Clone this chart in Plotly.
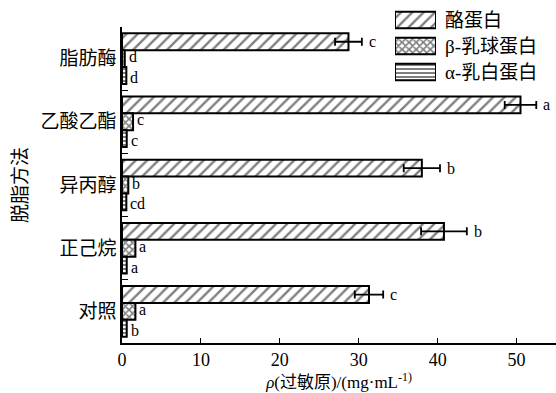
import plotly.graph_objects as go

# Defatting methods (top to bottom) and allergen content, mg/mL
methods = ["脂肪酶", "乙酸乙酯", "异丙醇", "正己烷", "对照"]
casein = [28.7, 50.5, 38.0, 40.8, 31.3]
casein_err = [1.7, 2.0, 2.3, 2.9, 1.8]
beta_lg = [0.35, 1.4, 0.8, 1.7, 1.7]
alpha_la = [0.55, 0.6, 0.55, 0.6, 0.6]

casein_sig = ["c", "a", "b", "b", "c"]
beta_sig = ["d", "c", "b", "a", "a"]
alpha_sig = ["d", "c", "cd", "a", "b"]

series = ["酪蛋白", "β-乳球蛋白", "α-乳白蛋白"]
x_ticks = [0, 10, 20, 30, 40, 50]

FONT = "Liberation Serif, Noto Sans CJK SC, serif"

patterns = [
    dict(shape="/", size=8, solidity=0.3, fgcolor="black", bgcolor="white"),
    dict(shape="x", size=5, solidity=0.55, fgcolor="black", bgcolor="white"),
    dict(shape="-", size=4, solidity=0.5, fgcolor="black", bgcolor="white"),
]

fig = go.Figure()

values = [casein, beta_lg, alpha_la]
for i, (name, vals) in enumerate(zip(series, values)):
    fig.add_trace(go.Bar(
        y=methods, x=vals, orientation="h", name=name,
        marker=dict(color="white", line=dict(color="black", width=2),
                    pattern=patterns[i]),
        error_x=dict(type="data", array=casein_err, color="black",
                     thickness=1.8, width=4, visible=(i == 0)),
        showlegend=False, xaxis="x", yaxis="y",
    ))

# Key boxes drawn as bars on a small inset axis
for i, name in enumerate(series):
    fig.add_trace(go.Bar(
        y=[name], x=[1], orientation="h",
        marker=dict(color="white", line=dict(color="black", width=2),
                    pattern=patterns[i]),
        showlegend=False, hoverinfo="skip", xaxis="x2", yaxis="y2",
    ))

annotations = []
bw = 0.8 / 3
letter_font = dict(size=16, family=FONT, color="black")
for k, m in enumerate(methods):
    annotations.append(dict(x=casein[k] + casein_err[k], y=k - bw, xref="x", yref="y",
                            text=casein_sig[k], showarrow=False, xanchor="left",
                            xshift=5, font=letter_font))
    annotations.append(dict(x=beta_lg[k], y=k, xref="x", yref="y",
                            text=beta_sig[k], showarrow=False, xanchor="left",
                            xshift=2, yshift=2, font=letter_font))
    annotations.append(dict(x=alpha_la[k], y=k + bw, xref="x", yref="y",
                            text=alpha_sig[k], showarrow=False, xanchor="left",
                            xshift=2, yshift=-2, font=letter_font))

for name in series:
    annotations.append(dict(x=1, y=name, xref="x2", yref="y2", text=name,
                            showarrow=False, xanchor="left", xshift=7,
                            font=dict(size=19, family=FONT, color="black")))

H_PLOT = 343.0
fig.update_layout(
    width=556, height=393,
    margin=dict(l=122, r=0, t=0, b=50),
    paper_bgcolor="white", plot_bgcolor="white",
    barmode="group", bargap=0.2, bargroupgap=0,
    font=dict(family=FONT, size=18, color="black"),
    xaxis=dict(range=[0, 55], tickvals=x_ticks, ticks="inside", ticklen=5,
               tickwidth=1.2, tickcolor="black", showline=True, linecolor="black",
               linewidth=1.5, showgrid=False, zeroline=False,
               tickfont=dict(size=18, family=FONT),
               title=dict(text="<i>ρ</i>(过敏原)/(mg·mL<sup>-1)</sup>",
                          font=dict(size=17, family=FONT), standoff=7)),
    yaxis=dict(domain=[0, 316 / H_PLOT], autorange="reversed", type="category",
               ticks="inside", tickson="boundaries", ticklen=6, tickwidth=1.2,
               tickcolor="black", showline=True, linecolor="black", linewidth=1.5,
               showgrid=False, zeroline=False,
               tickfont=dict(size=19, family=FONT),
               title=dict(text="脱脂方法", font=dict(size=19, family=FONT), standoff=8)),
    xaxis2=dict(domain=[(395 - 122) / 434, (436 - 122) / 434], range=[0, 1],
                anchor="y2", visible=False, fixedrange=True),
    yaxis2=dict(domain=[(H_PLOT - 85) / H_PLOT, (H_PLOT - 7) / H_PLOT], anchor="x2",
                type="category", autorange="reversed", visible=False, fixedrange=True),
    annotations=annotations,
    showlegend=False,
)
# inset key bars share the layout's bargap; keep them slim
fig.update_traces(selector=dict(xaxis="x2"), width=0.64)

fig.write_html("out.html")
